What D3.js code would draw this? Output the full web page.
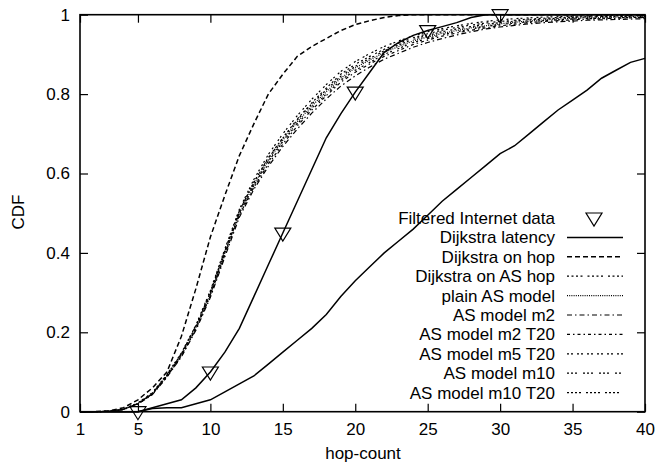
<!DOCTYPE html>
<html>
<head>
<meta charset="utf-8">
<script src="https://d3js.org/d3.v7.min.js"></script>
<style>
  body { margin: 0; background: #fff; }
  text { font-family: "Liberation Sans", Arial, sans-serif; font-size: 17px; fill: #000; }
</style>
</head>
<body>
<div id="cont"></div>
<script>
// hop-count 1..40
var hops = d3.range(1, 41);

// filtered internet data: the line and its triangle markers
var filteredLine = [0,0,0,0,0,0.01,0.02,0.03,0.06,0.10,0.15,0.21,0.29,0.37,0.45,0.53,0.61,0.69,0.75,0.805,
                    0.855,0.905,0.93,0.948,0.96,0.97,0.98,0.993,1,1,1,1,1,1,1,1,1,1,1,1];
var filteredX = [5, 10, 15, 20, 25, 30];
var filteredY = [0, 0.10, 0.45, 0.805, 0.96, 1.0];

var dijkstraLatency = [0,0,0,0,0,0.008,0.01,0.01,0.02,0.03,0.05,0.07,0.09,0.12,0.15,0.18,0.21,0.245,0.29,0.33,
                       0.365,0.40,0.43,0.46,0.495,0.53,0.56,0.59,0.62,0.65,0.67,0.70,0.73,0.76,0.785,0.81,0.84,0.86,0.88,0.89];
var dijkstraHop = [0,0,0.002,0.01,0.03,0.06,0.10,0.19,0.31,0.44,0.545,0.645,0.725,0.80,0.85,0.895,0.92,0.94,0.96,0.975,
                   0.985,0.993,0.998,1,1,1,1,1,1,1,1,1,1,1,1,1,1,1,1,1];
var dijkstraASHop = [0,0,0.001,0.006,0.021,0.046,0.092,0.145,0.215,0.3,0.405,0.505,0.578,0.64,0.69,0.737,0.778,0.815,0.85,0.875,
                     0.895,0.913,0.928,0.942,0.952,0.961,0.968,0.974,0.979,0.983,0.986,0.989,0.991,0.993,0.994,0.995,0.996,0.997,0.997,0.997];
var plainAS = [0,0,0.001,0.006,0.02,0.045,0.09,0.142,0.212,0.296,0.40,0.50,0.572,0.633,0.684,0.73,0.77,0.806,0.84,0.866,
               0.886,0.905,0.92,0.934,0.944,0.953,0.96,0.967,0.972,0.977,0.981,0.984,0.987,0.989,0.991,0.992,0.993,0.994,0.994,0.995];
var asM2 = [0,0,0.001,0.005,0.019,0.043,0.087,0.138,0.205,0.288,0.39,0.49,0.56,0.618,0.668,0.712,0.752,0.788,0.82,0.846,
            0.868,0.888,0.903,0.918,0.93,0.94,0.949,0.957,0.964,0.969,0.973,0.977,0.98,0.982,0.984,0.986,0.987,0.988,0.989,0.99];
var asM2T20 = [0,0,0.001,0.006,0.02,0.044,0.088,0.14,0.208,0.292,0.395,0.495,0.565,0.624,0.674,0.72,0.76,0.796,0.83,0.855,
               0.876,0.895,0.91,0.925,0.936,0.946,0.954,0.961,0.967,0.972,0.976,0.98,0.983,0.985,0.987,0.989,0.99,0.991,0.992,0.993];
var asM5T20 = [0,0,0.001,0.007,0.022,0.048,0.094,0.148,0.218,0.305,0.41,0.51,0.585,0.648,0.70,0.746,0.787,0.824,0.857,0.882,
               0.902,0.92,0.934,0.947,0.957,0.965,0.972,0.978,0.983,0.987,0.99,0.992,0.994,0.995,0.996,0.997,0.998,0.998,0.998,0.998];
var asM10 = [0,0,0.001,0.006,0.02,0.045,0.09,0.142,0.21,0.295,0.40,0.50,0.57,0.63,0.68,0.725,0.765,0.80,0.835,0.86,
             0.88,0.90,0.915,0.93,0.94,0.95,0.957,0.964,0.97,0.975,0.979,0.982,0.985,0.987,0.989,0.99,0.991,0.992,0.993,0.993];
var asM10T20 = [0,0,0.001,0.006,0.021,0.047,0.092,0.146,0.216,0.302,0.406,0.506,0.578,0.638,0.689,0.735,0.775,0.811,0.845,0.87,
                0.89,0.909,0.924,0.938,0.948,0.957,0.964,0.97,0.976,0.98,0.984,0.987,0.989,0.991,0.993,0.994,0.995,0.995,0.996,0.996];

var xTicks = [1, 5, 10, 15, 20, 25, 30, 35, 40];
var yTicks = [0, 0.2, 0.4, 0.6, 0.8, 1];

var series = [
    {name: 'Dijkstra latency', values: dijkstraLatency, dash: null},
    {name: 'Dijkstra on hop', values: dijkstraHop, dash: '5,3'},
    {name: 'Dijkstra on AS hop', values: dijkstraASHop, dash: '2,2.5,2,2.5,2,2.5,2,5'},
    {name: 'plain AS model', values: plainAS, dash: '1,1.2'},
    {name: 'AS model m2', values: asM2, dash: '5,3,1.5,3'},
    {name: 'AS model m2 T20', values: asM2T20, dash: '3,3,1.5,3'},
    {name: 'AS model m5 T20', values: asM5T20, dash: '2,2,2,4'},
    {name: 'AS model m10', values: asM10, dash: '2,2,2,2,2,6'},
    {name: 'AS model m10 T20', values: asM10T20, dash: '2,2,2,2,2,2,2,5'}
];

(function() {
    var W = 655, H = 465,
        plotLeft = 80, plotRight = 645, plotTop = 14.7, plotBottom = 411.7;

    var x = d3.scaleLinear().domain([1, 40]).range([plotLeft, plotRight]);
    var y = d3.scaleLinear().domain([0, 1]).range([plotBottom, plotTop]);

    var svg = d3.select('#cont').append('svg')
        .attr('width', W).attr('height', H);
    svg.append('rect').attr('width', W).attr('height', H).attr('fill', '#fff');

    // axes, ticks pointing inward on all four sides
    function styleAxis(g) {
        g.select('.domain').remove();
        g.selectAll('line').attr('stroke', '#000').attr('stroke-width', 1.2);
        g.selectAll('text').style('font-size', '17px')
            .style('font-family', '"Liberation Sans", Arial, sans-serif').attr('fill', '#000');
    }
    svg.append('g').attr('transform', 'translate(0,' + plotBottom + ')')
        .call(d3.axisBottom(x).tickValues(xTicks).tickSizeInner(-8).tickSizeOuter(0).tickPadding(11).tickFormat(d3.format('d')))
        .call(styleAxis);
    svg.append('g').attr('transform', 'translate(0,' + plotTop + ')')
        .call(d3.axisTop(x).tickValues(xTicks).tickSizeInner(-8).tickSizeOuter(0).tickFormat(''))
        .call(styleAxis);
    svg.append('g').attr('transform', 'translate(' + plotLeft + ',0)')
        .call(d3.axisLeft(y).tickValues(yTicks).tickSizeInner(-8).tickSizeOuter(0).tickPadding(10).tickFormat(function(d) { return String(d); }))
        .call(styleAxis);
    svg.append('g').attr('transform', 'translate(' + plotRight + ',0)')
        .call(d3.axisRight(y).tickValues(yTicks).tickSizeInner(-8).tickSizeOuter(0).tickFormat(''))
        .call(styleAxis);

    var line = d3.line()
        .x(function(d, i) { return x(hops[i]); })
        .y(function(d) { return y(d); });

    function widthOf(s) { return s.dash && s.dash !== '5,3' ? 1.2 : 1.5; }

    // curves
    svg.append('path').attr('d', line(filteredLine))
        .attr('fill', 'none').attr('stroke', '#000').attr('stroke-width', 1.5);

    series.forEach(function(s) {
        svg.append('path').attr('d', line(s.values))
            .attr('fill', 'none').attr('stroke', '#000').attr('stroke-width', widthOf(s))
            .attr('stroke-dasharray', s.dash);
    });

    // frame
    svg.append('rect')
        .attr('x', plotLeft).attr('y', plotTop)
        .attr('width', plotRight - plotLeft).attr('height', plotBottom - plotTop)
        .attr('fill', 'none').attr('stroke', '#000').attr('stroke-width', 1.6);

    function triangle(cx, cy) {
        return 'M' + (cx - 8) + ',' + (cy - 5) + 'L' + (cx + 8) + ',' + (cy - 5) + 'L' + cx + ',' + (cy + 8) + 'Z';
    }

    svg.selectAll('.tri').data(filteredX).enter().append('path')
        .attr('class', 'tri')
        .attr('d', function(d, i) { return triangle(x(d), y(filteredY[i])); })
        .attr('fill', 'none').attr('stroke', '#000').attr('stroke-width', 1.2);

    // legend
    var legX = 555, legY = 218, legStep = 19.4;
    var leg = svg.append('g');
    leg.append('text').attr('x', legX).attr('y', legY).attr('dy', '0.35em')
        .attr('text-anchor', 'end').text('Filtered Internet data');
    leg.append('path').attr('d', triangle(594, legY))
        .attr('fill', 'none').attr('stroke', '#000').attr('stroke-width', 1.2);

    series.forEach(function(s, i) {
        var yy = legY + (i + 1) * legStep;
        leg.append('text').attr('x', legX).attr('y', yy).attr('dy', '0.35em')
            .attr('text-anchor', 'end').text(s.name);
        leg.append('line').attr('x1', 567).attr('x2', 623).attr('y1', yy).attr('y2', yy)
            .attr('stroke', '#000').attr('stroke-width', widthOf(s)).attr('stroke-dasharray', s.dash);
    });

    // axis titles
    svg.append('text').attr('x', 363).attr('y', 459).attr('text-anchor', 'middle').text('hop-count');
    svg.append('text').attr('transform', 'translate(24,212) rotate(-90)')
        .attr('text-anchor', 'middle').text('CDF');
})();
</script>
</body>
</html>
